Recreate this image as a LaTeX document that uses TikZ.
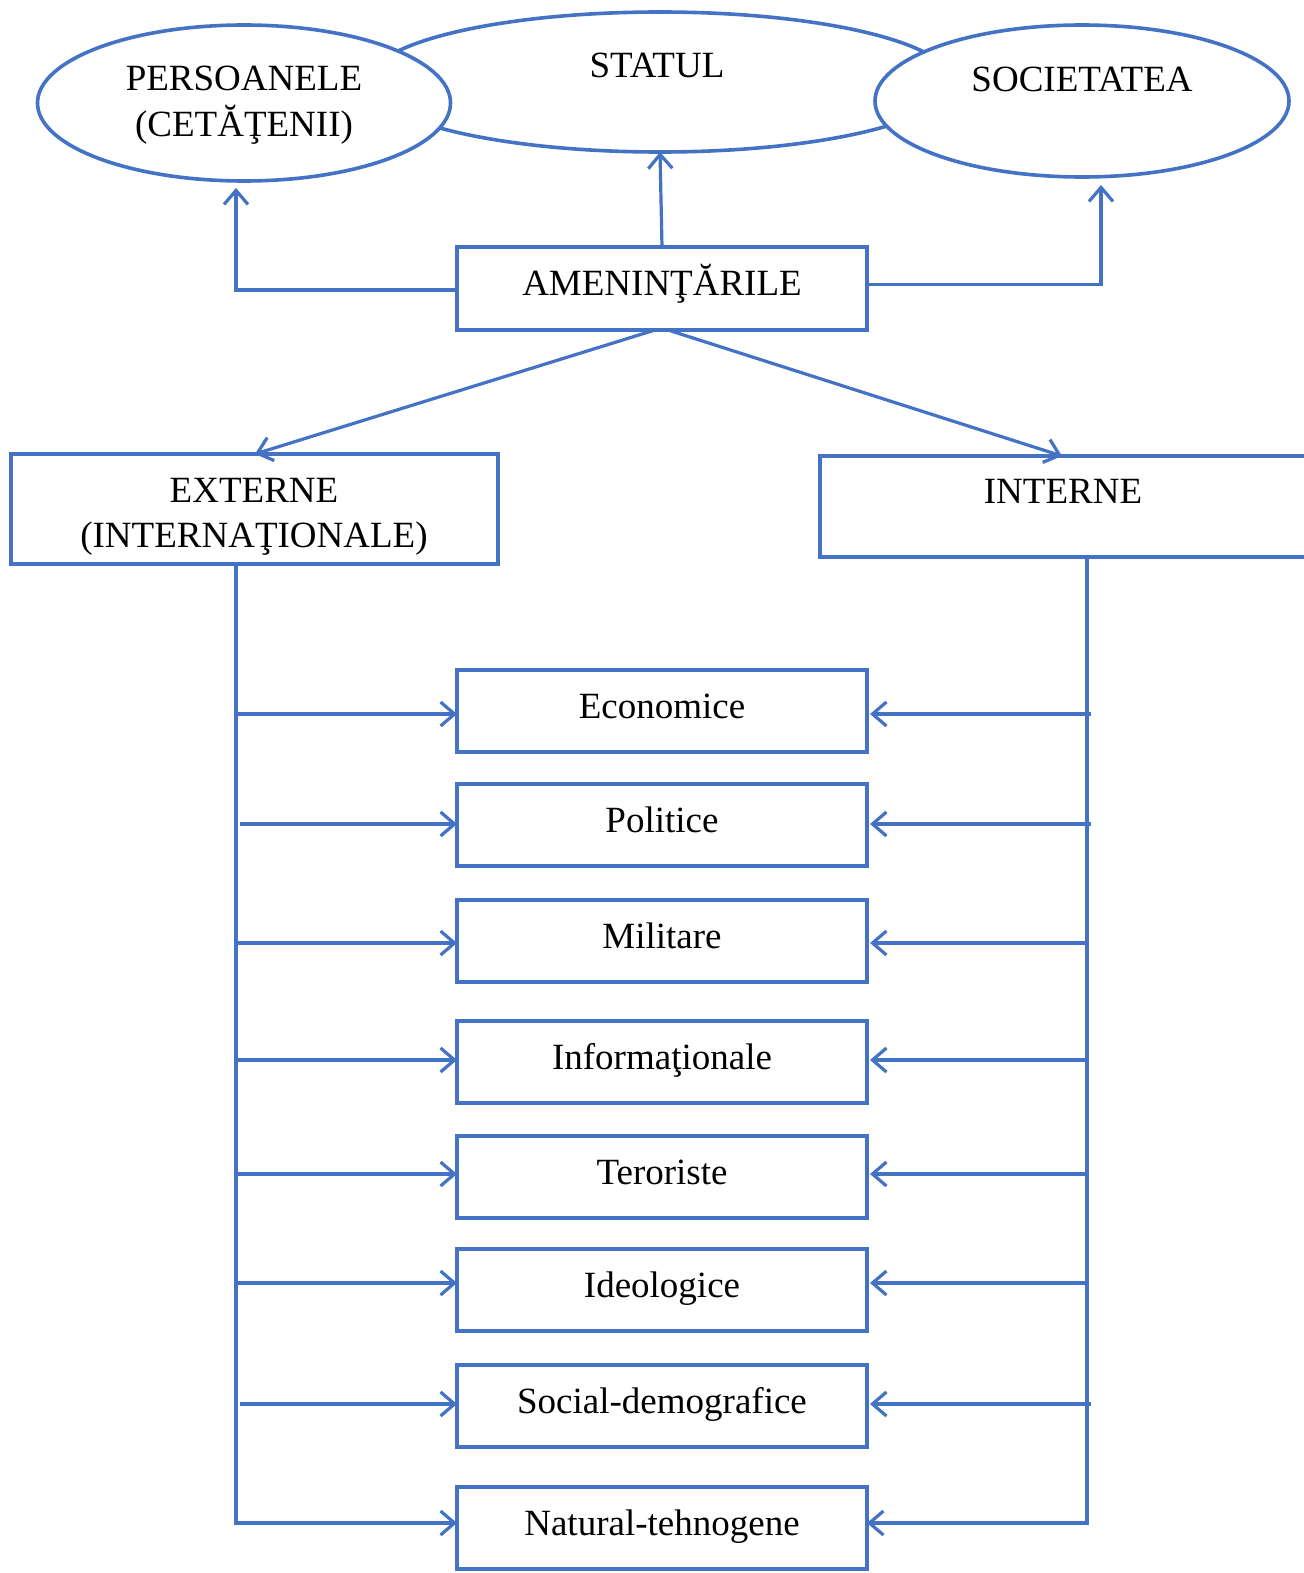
\documentclass[tikz,border=0pt]{standalone}
\usepackage{fontspec}
\setmainfont{Liberation Serif}
\usetikzlibrary{shapes.geometric,arrows.meta}
\definecolor{ablue}{HTML}{4472C4}
\begin{document}
\begin{tikzpicture}[x=1pt,y=-1pt,
  every node/.style={inner sep=0pt, outer sep=0pt},
  shapeline/.style={draw=ablue, line width=3.6pt},
  oval/.style={shapeline, ellipse, fill=white},
  box/.style={shapeline, rectangle, fill=white},
  lbl/.style={anchor=base, font=\fontsize{37}{45}\selectfont},
  conn/.style={draw=ablue, line width=3.2pt},
  arr/.style={conn, -{Straight Barb[length=14pt,width=24pt]}},
]
\useasboundingbox (0,0) rectangle (1303,1573);
\fill[white] (0,0) rectangle (1303,1573);

% ellipses
\node[oval, minimum width=584pt, minimum height=140pt] (statul) at (660,82) {};
\node[oval, minimum width=413pt, minimum height=156pt] (pers) at (244,103) {};
\node[oval, minimum width=414pt, minimum height=152pt] (soc) at (1082,101) {};
\node[lbl] (tstat) at (657,78) {STATUL};
\node[lbl] (tpers1) at (244,91) {PERSOANELE};
\node[lbl] (tpers2) at (244,137) {(CETĂŢENII)};
\node[lbl] (tsoc) at (1082,92) {SOCIETATEA};

% main boxes
\node[box, minimum width=410pt, minimum height=83pt] (amen) at (662,288.5) {};
\node[lbl] (tamen) at (662,295) {AMENINŢĂRILE};
\node[box, minimum width=487pt, minimum height=110pt] (ext) at (254.5,509) {};
\node[lbl] (text1) at (254,502) {EXTERNE};
\node[lbl] (text2) at (254,547) {(INTERNAŢIONALE)};
\node[box, minimum width=490pt, minimum height=101pt] (int) at (1065,506.5) {};
\node[lbl] (tint) at (1063,503) {INTERNE};

% top connectors
\draw[arr] (amen.north) -- (statul.south);
\draw[arr] ([yshift=-1.5pt]amen.west) -| ([xshift=-8pt,yshift=-7pt]pers.south);
\draw[arr] ([yshift=4pt]amen.east) -| ([xshift=19pt,yshift=-8pt]soc.south);
\draw[arr] ([xshift=-7pt]amen.south) -- ([xshift=0.5pt]ext.north);
\draw[arr] ([xshift=6pt]amen.south) -- ([xshift=-3pt]int.north);

% category boxes
\foreach \n/\t/\txt in {1/670/Economice,2/784/Politice,3/900/Militare,4/1021/Informaţionale,5/1136/Teroriste,6/1249/Ideologice,7/1365/Social-demografice,8/1487/Natural-tehnogene}{
  \node[box, minimum width=410pt, minimum height=82pt] (c\n) at (662,\t+41) {};
  \node[lbl] (t\n) at (662,\t+48) {\txt};
}

% trunks
\coordinate (lx) at (236,0);
\coordinate (rx) at (1087,0);
\coordinate (a8) at (0,1523);
\draw[arr] (ext.south -| lx) |- (c8.west |- a8);
\draw[arr] (int.south -| rx) |- (c8.east |- a8);

\foreach \n/\a/\ls/\rs in {1/714/236/1091,2/824/240/1091,3/943/236/1087,4/1060/236/1087,5/1174/236/1087,6/1283/236/1087,7/1404/240/1091}{
  \coordinate (la\n) at (\ls,\a);
  \coordinate (ra\n) at (\rs,\a);
  \draw[arr] (la\n) -- (c\n.west |- la\n);
  \draw[arr] (ra\n) -- ([xshift=3pt]c\n.east |- ra\n);
}
\end{tikzpicture}
\end{document}
